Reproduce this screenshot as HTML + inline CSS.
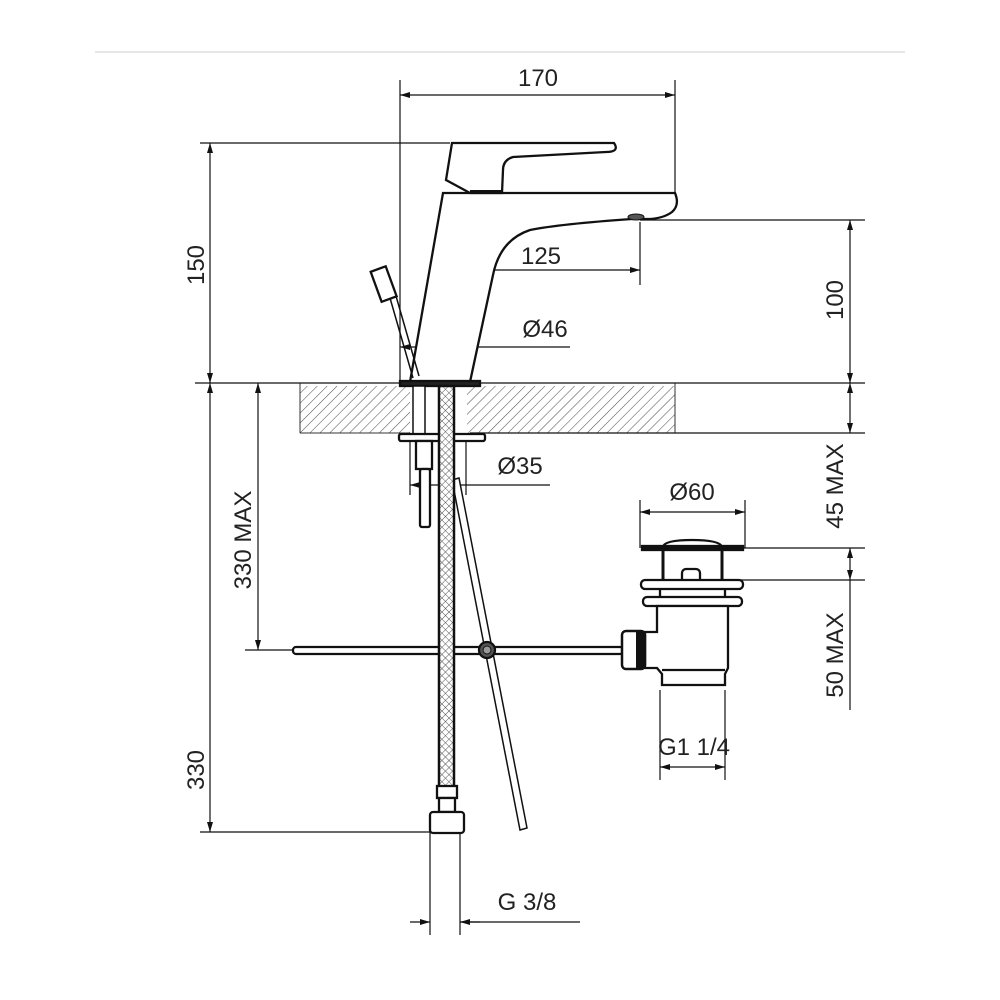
<!DOCTYPE html>
<html><head><style>
html,body{margin:0;padding:0;background:#fff;}
svg{display:block;}
text{font-family:"Liberation Sans",sans-serif;font-size:24px;fill:#222;}
</style></head><body>
<svg width="1000" height="1000" viewBox="0 0 1000 1000" xmlns="http://www.w3.org/2000/svg">
<defs>
<pattern id="hatch" width="7" height="7" patternUnits="userSpaceOnUse" patternTransform="rotate(45)">
<line x1="0" y1="0" x2="0" y2="7" stroke="#555" stroke-width="1.1"/>
</pattern>
<pattern id="braid" width="5" height="5" patternUnits="userSpaceOnUse" patternTransform="rotate(45)">
<rect width="5" height="5" fill="#fff"/>
<path d="M0 0H5M0 0V5" stroke="#555" stroke-width="1"/>
</pattern>
<marker id="a" markerWidth="10" markerHeight="6" refX="10" refY="3" orient="auto-start-reverse" markerUnits="userSpaceOnUse">
<path d="M0 0L10 3L0 6Z" fill="#111"/>
</marker>
</defs>
<line x1="95" y1="52" x2="905" y2="52" stroke="#ddd" stroke-width="1.5"/>

<!-- counter -->
<rect x="300" y="386" width="110" height="47" fill="url(#hatch)"/>
<rect x="467" y="386" width="208" height="47" fill="url(#hatch)"/>
<g stroke="#333" stroke-width="1">
<line x1="300" y1="383" x2="300" y2="433"/>
<line x1="675" y1="383" x2="675" y2="433"/>
<line x1="300" y1="433" x2="410" y2="433"/>
</g>

<g stroke="#111" stroke-width="1.2" fill="none">
<line x1="400" y1="80" x2="400" y2="380"/>
<line x1="675" y1="80" x2="675" y2="200"/>
<line x1="200" y1="143" x2="450" y2="143"/>
<line x1="195" y1="383" x2="865" y2="383"/>
<line x1="640" y1="220" x2="865" y2="220"/>
<line x1="470" y1="433" x2="865" y2="433"/>
<line x1="740" y1="548" x2="865" y2="548"/>
<line x1="730" y1="580" x2="865" y2="580"/>
<line x1="245" y1="650" x2="292" y2="650"/>
<line x1="200" y1="832" x2="432" y2="832"/>
<line x1="440" y1="258" x2="440" y2="383"/>
<line x1="640" y1="222" x2="640" y2="285"/>
<line x1="430" y1="832" x2="430" y2="935"/>
<line x1="460" y1="832" x2="460" y2="935"/>
<line x1="660" y1="690" x2="660" y2="780"/>
<line x1="725" y1="690" x2="725" y2="780"/>
<line x1="640" y1="500" x2="640" y2="548"/>
<line x1="745" y1="500" x2="745" y2="548"/>
<line x1="410" y1="440" x2="410" y2="495"/>
<line x1="466" y1="440" x2="466" y2="495"/>
<line x1="400" y1="95" x2="675" y2="95" marker-start="url(#a)" marker-end="url(#a)"/>
<line x1="210" y1="143" x2="210" y2="383" marker-start="url(#a)" marker-end="url(#a)"/>
<line x1="210" y1="383" x2="210" y2="832" marker-start="url(#a)" marker-end="url(#a)"/>
<line x1="258" y1="383" x2="258" y2="650" marker-start="url(#a)" marker-end="url(#a)"/>
<line x1="850" y1="220" x2="850" y2="383" marker-start="url(#a)" marker-end="url(#a)"/>
<line x1="850" y1="383" x2="850" y2="433" marker-start="url(#a)" marker-end="url(#a)"/>
<line x1="850" y1="548" x2="850" y2="580" marker-start="url(#a)" marker-end="url(#a)"/>
<line x1="850" y1="580" x2="850" y2="710"/>
<line x1="440" y1="270" x2="640" y2="270" marker-start="url(#a)" marker-end="url(#a)"/>
<line x1="400" y1="347" x2="478" y2="347" marker-start="url(#a)" marker-end="url(#a)"/>
<line x1="478" y1="347" x2="570" y2="347"/>
<line x1="410" y1="485" x2="456" y2="485" marker-start="url(#a)" marker-end="url(#a)"/>
<line x1="456" y1="485" x2="550" y2="485"/>
<line x1="640" y1="512" x2="745" y2="512" marker-start="url(#a)" marker-end="url(#a)"/>
<line x1="660" y1="767" x2="725" y2="767" marker-start="url(#a)" marker-end="url(#a)"/>
<line x1="410" y1="922" x2="430" y2="922" marker-end="url(#a)"/>
<line x1="480" y1="922" x2="460" y2="922" marker-end="url(#a)"/>
<line x1="460" y1="922" x2="580" y2="922"/>
</g>

<g stroke="#111" fill="#fff" stroke-width="2.3">
<path d="M443 193 L675 193 Q680 205 672 212 Q664 218 650 219 L632 219 Q560 224 530 230 Q500 240 493 275 L470 382 L410 382 Z" fill="#fff"/>
<path d="M452 143 L614 143 Q620 152 606 152 L513 157 Q503 160 503 170 L502 193 L470 193 L446 180 Z"/>
<line x1="470" y1="192" x2="502" y2="192" stroke-width="4"/>
<ellipse cx="636" cy="217" rx="8" ry="3" fill="#555" stroke-width="1"/>
<rect x="400" y="381" width="80" height="5" fill="#222"/>
<g transform="rotate(-20 384 285)"><rect x="376" y="268" width="16" height="32"/></g>
<path d="M390 298 L413 378 M396 296 L419 376" stroke-width="1.5"/>
<rect x="413" y="386" width="12" height="48" stroke-width="1.5"/>
<rect x="399" y="434" width="86" height="7" rx="2"/>
<rect x="416" y="441" width="16" height="28"/>
<rect x="420" y="469" width="10" height="58" rx="2"/>
<path d="M452 480 L520 830 L527 828 L459 478 Z" stroke-width="1.5"/>
<rect x="293" y="647" width="330" height="7" rx="3"/>
<rect x="439" y="386" width="15" height="410" fill="url(#braid)" stroke-width="2.5"/>
<rect x="437" y="786" width="20" height="12"/>
<rect x="439" y="798" width="16" height="14"/>
<rect x="430" y="812" width="34" height="21" rx="3"/>
<circle cx="487" cy="650" r="8" fill="#555"/>
<circle cx="487" cy="650" r="4" fill="#999" stroke-width="1"/>
<path d="M663 547 Q664 540 692 540 Q720 540 722 547 Z"/>
<rect x="642" y="546" width="101" height="4" fill="#111"/>
<path d="M663 550 L663 582 M722 550 L722 582" stroke-width="3"/>
<rect x="682" y="569" width="18" height="14" rx="4"/>
<rect x="641" y="580" width="102" height="9" rx="4"/>
<path d="M660 589 L660 597 M725 589 L725 597"/>
<rect x="643" y="597" width="99" height="9" rx="4"/>
<path d="M657 606 L657 632 L645 632 L645 668 L657 668 L662 674 L662 685 L725 685 L725 674 L728 668 L728 606 Z"/>
<line x1="662" y1="670" x2="725" y2="670"/>
<rect x="622" y="631" width="23" height="38" rx="4" fill="#fff" stroke-width="2.5"/>
<rect x="636" y="632" width="8" height="36" fill="#111" stroke="none"/>
</g>

<text x="538" y="86" text-anchor="middle">170</text>
<text x="541" y="264" text-anchor="middle">125</text>
<text x="545" y="337" text-anchor="middle">Ø46</text>
<text x="520" y="474" text-anchor="middle">Ø35</text>
<text x="692" y="500" text-anchor="middle">Ø60</text>
<text x="694" y="755" text-anchor="middle">G1 1/4</text>
<text x="527" y="910" text-anchor="middle">G 3/8</text>
<text transform="translate(204 265) rotate(-90)" text-anchor="middle">150</text>
<text transform="translate(251 540) rotate(-90)" text-anchor="middle">330 MAX</text>
<text transform="translate(204 770) rotate(-90)" text-anchor="middle">330</text>
<text transform="translate(843 300) rotate(-90)" text-anchor="middle">100</text>
<text transform="translate(843 486) rotate(-90)" text-anchor="middle">45 MAX</text>
<text transform="translate(843 655) rotate(-90)" text-anchor="middle">50 MAX</text>
</svg>
</body></html>
